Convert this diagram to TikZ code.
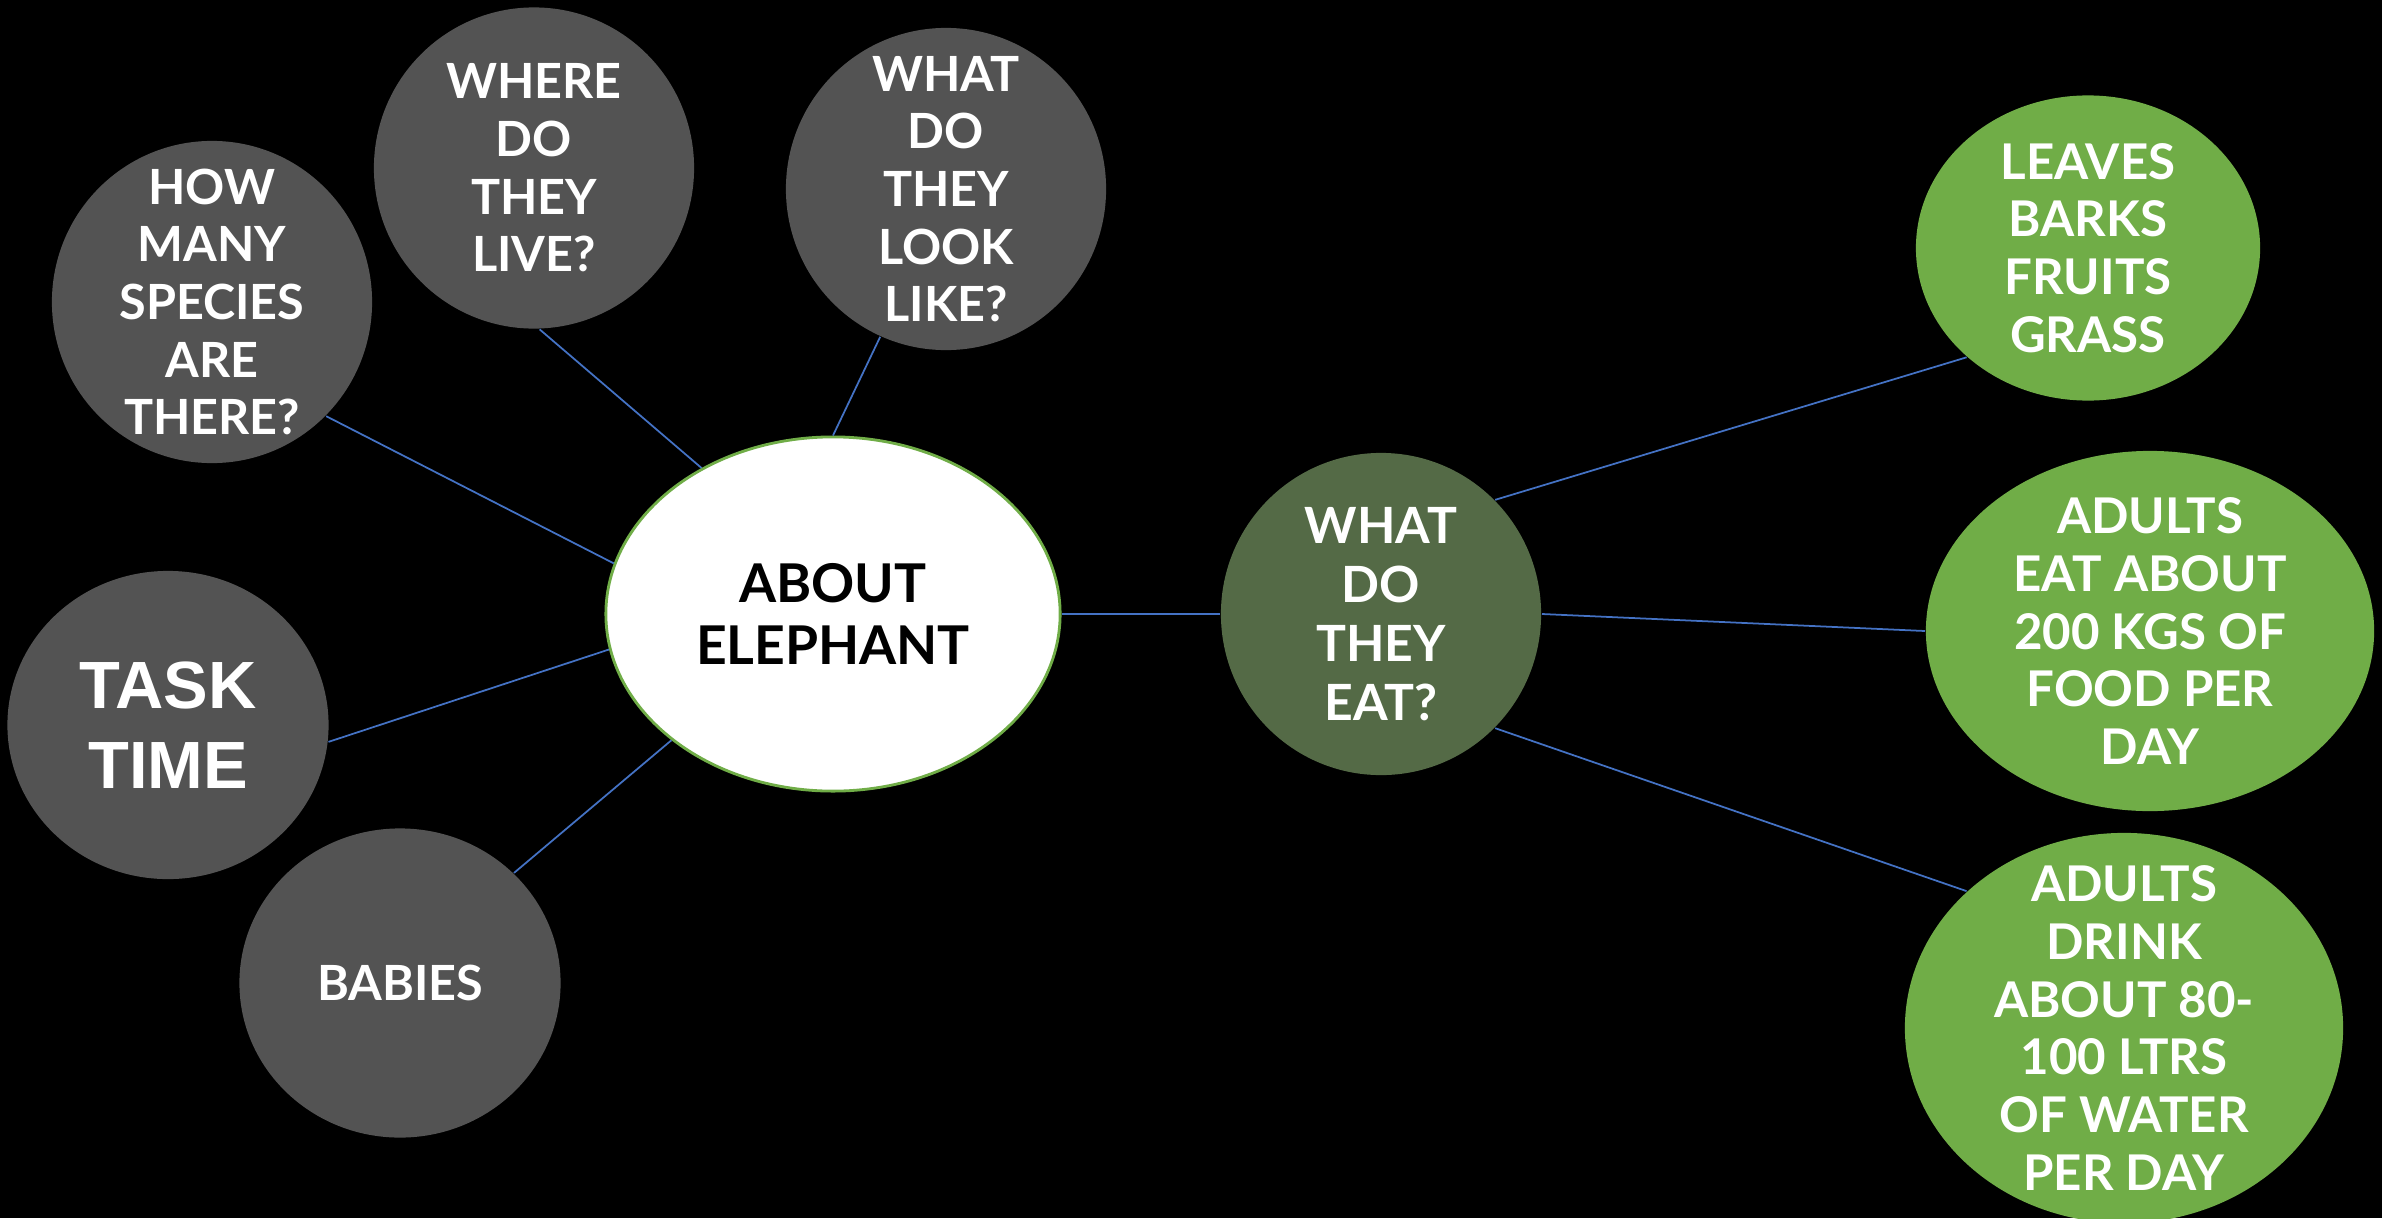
\documentclass[tikz,border=0pt]{standalone}
\usepackage{fontspec}
\setmainfont{Lato}
\newfontfamily\taskfont{Liberation Sans}
\usetikzlibrary{shapes.geometric}
\definecolor{bubblegray}{RGB}{83,83,83}
\definecolor{leafgreen}{RGB}{112,173,71}
\definecolor{olivegreen}{RGB}{84,106,70}
\definecolor{linkblue}{RGB}{68,114,196}

\begin{document}
\begin{tikzpicture}[x=0.01cm, y=-0.01cm,
                    line width=0.5pt,
                    ]
    \tikzstyle{question}=[ellipse, fill=bubblegray, text=white, inner xsep=0pt, inner ysep=-14pt, align=center,
                          font={\bfseries\fontsize{13.8}{16.4}\selectfont}]
    \tikzstyle{branch}=[question, fill=olivegreen, font={\bfseries\fontsize{14.2}{16.8}\selectfont}]
    \tikzstyle{fact}=[question, fill=leafgreen, font={\bfseries\fontsize{14}{16.4}\selectfont}]
    \tikzstyle{topic}=[ellipse, draw=leafgreen, line width=0.8pt, fill=white, text=black, inner sep=0pt,
                       align=center, font={\bfseries\fontsize{15.2}{17.8}\selectfont}]
    \tikzstyle{link}=[draw=linkblue, line width=0.5pt]

    \useasboundingbox (0,0) rectangle (2382,1218);
    \fill[black] (0,0) rectangle (2382,1218);

    % centre and questions round it
    \node[topic, minimum width=4.54cm, minimum height=3.54cm] (about) at (833,614) {ABOUT\\ELEPHANT};
    \node[question, minimum width=3.2cm, minimum height=3.22cm] (species) at (212,302) {HOW\\MANY\\SPECIES\\ARE\\THERE?};
    \node[question, minimum width=3.2cm, minimum height=3.21cm] (live) at (534,168) {WHERE\\DO\\THEY\\LIVE?};
    \node[question, minimum width=3.2cm, minimum height=3.22cm] (look) at (946,189) {WHAT\\DO\\THEY\\LOOK\\LIKE?};
    \node[question, minimum width=3.21cm, minimum height=3.08cm,
          font={\taskfont\bfseries\fontsize{19}{22.7}\selectfont}] (task) at (168,725) {TASK\\TIME};
    \node[question, minimum width=3.21cm, minimum height=3.09cm] (babies) at (400,983) {BABIES};

    % food branch
    \node[branch, minimum width=3.2cm, minimum height=3.22cm] (eat) at (1381,614) {WHAT\\DO\\THEY\\EAT?};
    \node[fact, minimum width=3.44cm, minimum height=3.05cm] (leaves) at (2088,248) {LEAVES\\BARKS\\FRUITS\\GRASS};
    \node[fact, minimum width=4.48cm, minimum height=3.6cm] (food) at (2150,631) {ADULTS\\EAT ABOUT\\200 KGS OF\\FOOD PER\\DAY};
    \node[fact, minimum width=4.38cm, minimum height=3.9cm] (water) at (2124,1028) {ADULTS\\DRINK\\ABOUT 80-\\100 LTRS\\OF WATER\\PER DAY};

    \path[link] (species.-45) -- (about.167);
    \path[link] (live.-88) -- (about.132);
    \path[link] (look.246) -- (about.90);
    \path[link] (task.-6) -- (about.189);
    \path[link] (babies.44) -- (about.218);
    \path[link] (about.east) -- (eat.west);
    \path[link] (eat.45) -- (leaves.222);
    \path[link] (eat.east) -- (food.west);
    \path[link] (eat.-45) -- (water.139);
\end{tikzpicture}
\end{document}
